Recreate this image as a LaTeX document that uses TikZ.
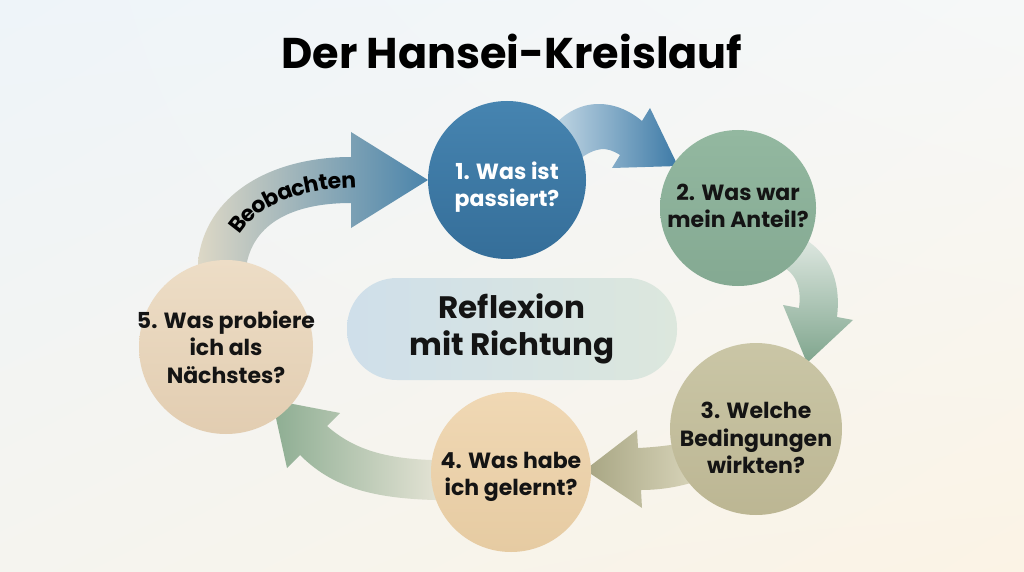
\documentclass[tikz,border=0pt]{standalone}
\usepackage{fontspec}
\setmainfont{Poppins}
\usetikzlibrary{decorations.text,shadings}

\definecolor{bgtl}{HTML}{EEF4F9}
\definecolor{bgtr}{HTML}{F6F8F8}
\definecolor{bgbl}{HTML}{F5F4EF}
\definecolor{bgbr}{HTML}{FBF3E5}
% circle colours (top / bottom)
\definecolor{passtop}{HTML}{4684B0}
\definecolor{passbot}{HTML}{356E99}
\definecolor{anteiltop}{HTML}{93B8A0}
\definecolor{anteilbot}{HTML}{84A992}
\definecolor{bedtop}{HTML}{CAC6A6}
\definecolor{bedbot}{HTML}{BCB693}
\definecolor{lerntop}{HTML}{F0D8B4}
\definecolor{lernbot}{HTML}{E6CBA2}
\definecolor{naechsttop}{HTML}{EDDDC6}
\definecolor{naechstbot}{HTML}{E2CDB1}
% arrow colours (light / dark)
\definecolor{beolight}{HTML}{DDD8C6}
\definecolor{beodark}{HTML}{4A84AB}
\definecolor{zweilight}{HTML}{C8DBE7}
\definecolor{zweidark}{HTML}{3D7AA6}
\definecolor{dreilight}{HTML}{E3EBE5}
\definecolor{dreidark}{HTML}{7FA58D}
\definecolor{vierlight}{HTML}{DAD6BC}
\definecolor{vierdark}{HTML}{A7A582}
\definecolor{fuenflight}{HTML}{F4EDE1}
\definecolor{fuenfdark}{HTML}{8DAD92}
\definecolor{pillleft}{HTML}{CFDFEA}
\definecolor{pillright}{HTML}{DCE7DD}

\begin{document}
\begin{tikzpicture}[x=1pt,y=-1pt,
    stepcircle/.style={circle,draw=none,inner sep=0pt,minimum size=#1},
    steptext/.style={align=center,inner sep=0pt,
      font=\bfseries\fontsize{22}{27.5}\selectfont,text=black!92},
    pillnode/.style={rectangle,rounded corners=50pt,minimum width=330pt,minimum height=102pt,
      align=center,font=\bfseries\fontsize{31}{37}\selectfont,text=black!92,
      left color=pillleft,right color=pillright}]
  % background
  \shade[upper left=bgtl,upper right=bgtr,lower left=bgbl,lower right=bgbr]
    (0,0) rectangle (1024,572);
  \useasboundingbox (0,0) rectangle (1024,572);

  % arrows (under the circles)
  \shade[left color=beolight,right color=beodark]
    (351,132) -- (428,180) -- (351,228) -- (351,203)
    .. controls (290,203) and (255,225) .. (247,262) -- (247,295) -- (198,295) -- (198,262)
    .. controls (205,195) and (270,157) .. (351,157) -- cycle;
  \shade[left color=zweilight,right color=zweidark]
    (650,108) -- (678,166) -- (612,168) -- (620,155)
    .. controls (606,146) and (596,147) .. (578,160)
    -- (548,133) .. controls (575,95) and (615,98) .. (642,121) -- cycle;
  \shade[top color=dreilight,bottom color=dreidark]
    (783,305) -- (799,308) .. controls (802,285) and (795,268) .. (770,262)
    -- (790,232) .. controls (825,245) and (842,275) .. (837,317)
    -- (853,320) -- (807,363) -- cycle;
  \shade[left color=vierdark,right color=vierlight]
    (637,430) -- (638,448) .. controls (660,447) and (680,444) .. (700,440)
    -- (700,480) .. controls (680,487) and (660,490) .. (641,490)
    -- (642,508) -- (585,470) -- cycle;
  \shade[left color=fuenfdark,right color=fuenflight]
    (272,400) -- (340,413) -- (327,426) .. controls (360,455) and (400,462) .. (470,460)
    -- (470,500) .. controls (380,502) and (335,490) .. (300,455)
    -- (287,468) -- cycle;

  % label on the first arrow
  \coordinate (b0) at (222,262);
  \coordinate (b1) at (366,180);
  \path[decorate,decoration={text along path,text align={right,right indent=10pt},raise=-7.5pt,
      text={|\bfseries\fontsize{22}{24}\selectfont|Beobachten}}]
    (b0) .. controls (230,210) and (280,180) .. (b1);

  % steps
  \node[stepcircle=158pt,top color=passtop,bottom color=passbot] (s1) at (507,180) {};
  \node[stepcircle=156pt,top color=anteiltop,bottom color=anteilbot] (s2) at (738,208) {};
  \node[stepcircle=172pt,top color=bedtop,bottom color=bedbot] (s3) at (756,429) {};
  \node[stepcircle=160pt,top color=lerntop,bottom color=lernbot] (s4) at (511,472) {};
  \node[stepcircle=174pt,top color=naechsttop,bottom color=naechstbot] (s5) at (226,347) {};

  \node[steptext,text=white] (t1) at ([yshift=-7pt]s1.center) {1. Was ist\\passiert?};
  \node[steptext] (t2) at ([yshift=2pt]s2.center) {2. Was war\\mein Anteil?};
  \node[steptext] (t3) at ([yshift=-9pt]s3.center) {3. Welche\\Bedingungen\\wirkten?};
  \node[steptext] (t4) at ([yshift=-5pt]s4.center) {4. Was habe\\ich gelernt?};
  \node[steptext] (t5) at (s5.center) {5. Was probiere\\ich als\\Nächstes?};

  \node[pillnode] (mid) at (512,329) {Reflexion\\mit Richtung};
  \node[font=\bfseries\fontsize{43}{50}\selectfont] (title) at (512,51) {Der Hansei-Kreislauf};
\end{tikzpicture}
\end{document}
